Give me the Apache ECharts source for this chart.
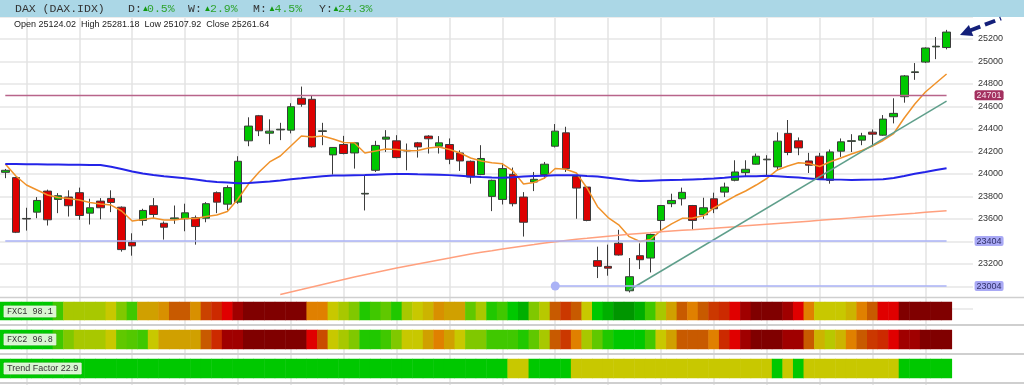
<!DOCTYPE html>
<html><head><meta charset="utf-8">
<script src="https://cdn.jsdelivr.net/npm/echarts@6/dist/echarts.min.js"></script>
<style>html,body{margin:0;padding:0;background:#fff}#c{width:1024px;height:385px}</style>
</head><body><div id="c"></div>
<script>
// ---- data ----
const opens = [24015,23968,23600,23661,23848,23774,23795,23834,23652,23759,
23783,23705,23393,23587,23718,23562,23600,23602,23611,23607,
23834,23732,23750,24295,24518,24363,24392,24390,24673,24664,
24378,24170,24262,24187,23822,24033,24310,24295,24210,24277,
24337,24247,24262,24187,24113,23995,23801,23774,23997,23795,
23929,23995,24247,24366,23979,23884,23230,23179,23384,22962,
23274,23253,23587,23736,23780,23720,23638,23780,23839,23944,
24012,24087,24126,24063,24361,24295,24116,24158,23944,24203,
24290,24301,24372,24345,24509,24687,24902,24995,25130,25124.02];
const closes = [24033,23482,23605,23765,23593,23807,23718,23631,23700,23700,
23747,23328,23361,23676,23640,23527,23610,23655,23533,23736,
23750,23879,24113,24426,24384,24381,24398,24598,24620,24241,
24384,24236,24182,24277,23828,24254,24328,24146,24205,24241,
24313,24277,24131,24116,23973,24138,23944,24048,23736,23571,
23953,24087,24381,24048,23875,23587,23179,23163,23280,23087,
23238,23462,23720,23765,23837,23587,23700,23691,23884,24018,
24042,24158,24132,24292,24191,24232,24078,23959,24196,24286,
24296,24339,24354,24488,24539,24872,24908,25120,25136,25261.64];
const lows = [23963,23475,23497,23607,23542,23652,23622,23593,23551,23598,
23661,23310,23274,23542,23602,23417,23557,23491,23372,23571,
23652,23676,23735,24247,24337,24265,24301,24361,24598,24235,
24256,23995,24175,24048,23676,24018,24196,24140,24033,24146,
24182,24182,24087,24027,23914,23990,23670,23729,23712,23444,
23848,23959,24236,24018,23602,23580,23075,23096,23275,22947,
23155,23125,23482,23705,23720,23506,23602,23652,23795,23935,
23973,24085,23988,24033,24167,24167,24009,23955,23914,24152,
24196,24256,24241,24340,24450,24634,24837,24986,25021,25107.92];
const highs = [24045,23975,23700,23795,23861,23830,23855,23879,23780,23786,
23855,23712,23473,23691,23786,23578,23720,23736,23631,23750,
23845,23899,24158,24504,24525,24486,24455,24629,24777,24694,
24455,24240,24339,24285,23982,24295,24390,24345,24271,24285,
24345,24337,24316,24210,24120,24256,23950,24098,24057,23839,
24018,24107,24444,24420,23985,23890,23354,23372,23504,23253,
23384,23470,23725,23825,23879,23725,23789,23834,23923,24122,
24122,24182,24167,24370,24480,24325,24188,24188,24218,24316,
24354,24366,24396,24524,24673,24880,24986,25125,25218,25281.18];

const maShort = [24089,23982,23902,23858,23813,23791,23782,23769,23747,23733,
23724,23671,23582,23596,23609,23591,23591,23604,23604,23622,
23636,23667,23778,23911,24018,24107,24160,24249,24338,24329,
24338,24311,24280,24278,24187,24204,24222,24218,24207,24209,
24231,24240,24218,24187,24142,24116,24100,24091,24027,23911,
23924,23964,24049,24042,24009,23876,23709,23613,23548,23443,
23400,23418,23498,23556,23606,23609,23628,23698,23751,23804,
23849,23902,23960,24036,24071,24100,24093,24067,24109,24142,
24178,24209,24249,24298,24360,24498,24622,24729,24809,24889];
const maMid = [24089,24089,24087,24086,24085,24084,24083,24082,24081,24080,
24065,24044,24022,24004,23991,23980,23972,23963,23951,23938,
23929,23924,23918,23920,23927,23934,23943,23953,23962,23972,
23980,23986,23987,23989,23991,23994,23997,24000,23999,23997,
23996,23993,23990,23984,23978,23973,23969,23967,23971,23977,
23982,23985,23988,23990,23989,23983,23978,23967,23956,23945,
23938,23941,23944,23947,23949,23952,23955,23959,23966,23975,
23979,23981,23984,23980,23974,23968,23961,23954,23951,23950,
23947,23949,23950,23953,23964,23982,24002,24018,24036,24051];
const maLong = [null,null,null,null,null,null,null,null,null,null,
null,null,null,null,null,null,null,null,null,null,
null,null,null,null,null,null,22928,22951,22973,22996,
23018,23040,23062,23084,23105,23124,23144,23164,23182,23200,
23218,23236,23253,23271,23289,23304,23318,23333,23347,23360,
23373,23387,23397,23409,23420,23428,23437,23446,23455,23464,
23471,23478,23486,23493,23500,23505,23511,23517,23524,23531,
23539,23546,23553,23560,23567,23574,23581,23588,23596,23603,
23610,23617,23624,23631,23638,23645,23652,23660,23667,23674];
const trendLine = [[59, 22969], [89, 24647]];
const resistance = 24701;
const support1 = 23404;
const support2 = 23004;
const support2Start = 52;
const yTicks = [23200,23600,23800,24000,24200,24400,24600,24800,25000,25200];

const fxc1 = [1,1,1,1,1,2,4,4,4,4,
5,3,2,6,6,6.5,8,8,6.5,8.5,
9,10,11,12,12,12,12,12,12,7,
7,5,4,3,1.5,2,2.5,1.5,4,5,
5.5,6.5,6,6,2.5,4,1.5,2,1,0.5,
3,4.5,8,8.7,8,5,1,0.5,0,0,
0.5,2,4,6,8,7,8,8.7,9,10,
11,12,12,12,11,10,7,5,5,5,
5.5,7,8,10,10,12,12,12,12,12];
const fxc2 = [1,1,1,1,1,2,3,4,4,4,
5,2.5,2.3,2,5,6,6,6,6,8,
9,11,11,12,12,12,12,12,12,10,
8.3,5,4,3,1.5,1.5,2,3,5,5,
6,7,6,5,3,3,2,2,2,1.5,
2.5,4,8,8.7,7,4,2.5,1.5,1,1,
1,2,5,6,8,8,8,7,9,10,
11,12,12,12,11,11,8,5.5,4.5,5.5,
7,8,8.7,9,10,11,11,12,12,12];
const trendFactor = [1,1,1,1,1,1,1,1,1,1,
1,1,1,1,1,1,1,1,1,1,
1,1,1,1,1,1,1,1,1,1,
1,1,1,1,1,1,1,1,1,1,
1,1,1,1,1,1,1,1,5,5,
1,1,1,1,5,5,5,5,5,5,
5,5,5,5,5,5,5,5,5,5,
5,5,5,1,5,1,5,5,5,5,
5,5,5,5,5,1,1,1,1,1];
const heatPalette = ['#009600','#00c800','#40c800','#80c800','#a8c800','#c8c800',
  '#d0a000','#e08000','#c85a00','#cc2a00','#e00000','#a00000','#800000'];

// ---- chart ----
const N = 92;
const cats = Array.from({length: N}, (_, i) => String(i));
const candles = opens.map((o, i) => [o, closes[i], lows[i], highs[i]]);
const heat = arr => arr.map((v, i) => [i, 0, v]);

const chart = echarts.init(document.getElementById('c'));
const mono = '"Liberation Mono", "DejaVu Sans Mono", monospace';
const sans = '"Liberation Sans", Arial, sans-serif';

function boxLabel(text, bg, fg) {
  return {show: true, position: 'end', distance: 28, formatter: String(text),
    color: fg, backgroundColor: bg, padding: [1, 2, 0, 2], borderRadius: 2,
    fontSize: 9, fontFamily: sans};
}

const stripGrid = (top, h) => ({left: 0, right: 51, top: top, height: h});
const hiddenCat = idx => ({type: 'category', data: cats, gridIndex: idx, show: false, boundaryGap: true});
const hiddenY = idx => ({type: 'category', data: ['v'], gridIndex: idx, show: false});

chart.setOption({
  animation: false,
  backgroundColor: '#fff',
  grid: [
    {left: 0, right: 51, top: 16.5, height: 292.5},
    stripGrid(302, 18),
    stripGrid(330, 19),
    stripGrid(359, 19),
    {left: 0, right: 51, top: 18, bottom: 0}
  ],
  xAxis: [
    {type: 'category', data: cats, gridIndex: 0, boundaryGap: true,
      axisLine: {show: false}, axisTick: {show: false}, axisLabel: {show: false}, splitLine: {show: false}},
    hiddenCat(1), hiddenCat(2), hiddenCat(3),
    {type: 'category', data: cats, gridIndex: 4, boundaryGap: true,
      axisLine: {show: false}, axisTick: {show: false}, axisLabel: {show: false},
      splitLine: {show: true, alignWithLabel: true, interval: (i) => i % 5 === 2,
        lineStyle: {color: '#e3e3e3', width: 1.5}}}
  ],
  yAxis: [
    {type: 'value', gridIndex: 0, position: 'right', min: 22800, max: 25400, interval: 200,
      axisLine: {show: false}, axisTick: {show: false},
      axisLabel: {margin: 5, color: '#333', fontSize: 9, fontFamily: sans,
        formatter: v => yTicks.indexOf(v) >= 0 ? String(v) : ''},
      splitLine: {show: true, lineStyle: {color: '#e6e6e6', width: 1.5}}},
    hiddenY(1), hiddenY(2), hiddenY(3),
    {type: 'value', gridIndex: 4, min: 0, max: 1, show: false, splitLine: {show: false}}
  ],
  visualMap: [{type: 'continuous', show: false, min: 0, max: 12, dimension: 2,
    seriesIndex: [5, 6, 7], inRange: {color: heatPalette}}],
  series: [
    {type: 'candlestick', xAxisIndex: 0, yAxisIndex: 0, data: candles, barWidth: 8,
      itemStyle: {color: '#00c800', color0: '#dd0000', borderColor: '#3c3c3c', borderColor0: '#3c3c3c', borderWidth: 1},
      markLine: {silent: true, symbol: 'none', animation: false,
        data: [
          [{coord: [0, resistance], lineStyle: {color: '#b8648a', width: 1.3, type: 'solid'},
            label: boxLabel(resistance, '#a3305f', '#f6e2ec')}, {coord: [89, resistance]}],
          [{coord: [0, support1], lineStyle: {color: '#aab2f6', width: 1.5, type: 'solid'},
            label: boxLabel(support1, '#a9a9f5', '#30306a')}, {coord: [89, support1]}],
          [{coord: [support2Start, support2], symbol: 'circle', symbolSize: 9,
            lineStyle: {color: '#aab2f6', width: 1.5, type: 'solid'},
            label: boxLabel(support2, '#a9a9f5', '#30306a')}, {coord: [89, support2], symbol: 'none'}]
        ]}},
    {type: 'line', data: maShort, symbol: 'none', lineStyle: {color: '#f0922a', width: 1.5}, z: 3},
    {type: 'line', data: maMid, symbol: 'none', lineStyle: {color: '#2424e8', width: 2}, z: 3},
    {type: 'line', data: maLong, symbol: 'none', lineStyle: {color: '#ffa07e', width: 1.5}, z: 3},
    {type: 'line', data: trendLine, symbol: 'none', lineStyle: {color: '#5f9f8b', width: 1.5}, z: 3},
    {type: 'heatmap', xAxisIndex: 1, yAxisIndex: 1, data: heat(fxc1)},
    {type: 'heatmap', xAxisIndex: 2, yAxisIndex: 2, data: heat(fxc2)},
    {type: 'heatmap', xAxisIndex: 3, yAxisIndex: 3, data: heat(trendFactor)}
  ],
  graphic: [
    {type: 'rect', shape: {x: 0, y: 0, width: 1024, height: 17}, style: {fill: '#abd7e6'}, z: 10},
    {type: 'text', x: 15, y: 8.5, z: 11, style: {text: 'DAX (DAX.IDX)', font: '11.5px ' + mono, fill: '#333', verticalAlign: 'middle'}},
    {type: 'text', x: 128, y: 8.5, z: 11, style: {text: 'D:', font: '11.5px ' + mono, fill: '#333', verticalAlign: 'middle'}},
    {type: 'text', x: 141.5, y: 9, z: 11, style: {text: '▲', font: '8px ' + sans, fill: '#119911', verticalAlign: 'middle'}},
    {type: 'text', x: 147, y: 8.5, z: 11, style: {text: '0.5%', font: '11.5px ' + mono, fill: '#2ea32e', verticalAlign: 'middle'}},
    {type: 'text', x: 188, y: 8.5, z: 11, style: {text: 'W:', font: '11.5px ' + mono, fill: '#333', verticalAlign: 'middle'}},
    {type: 'text', x: 203.5, y: 9, z: 11, style: {text: '▲', font: '8px ' + sans, fill: '#119911', verticalAlign: 'middle'}},
    {type: 'text', x: 210, y: 8.5, z: 11, style: {text: '2.9%', font: '11.5px ' + mono, fill: '#2ea32e', verticalAlign: 'middle'}},
    {type: 'text', x: 253, y: 8.5, z: 11, style: {text: 'M:', font: '11.5px ' + mono, fill: '#333', verticalAlign: 'middle'}},
    {type: 'text', x: 268, y: 9, z: 11, style: {text: '▲', font: '8px ' + sans, fill: '#119911', verticalAlign: 'middle'}},
    {type: 'text', x: 274.5, y: 8.5, z: 11, style: {text: '4.5%', font: '11.5px ' + mono, fill: '#2ea32e', verticalAlign: 'middle'}},
    {type: 'text', x: 319, y: 8.5, z: 11, style: {text: 'Y:', font: '11.5px ' + mono, fill: '#333', verticalAlign: 'middle'}},
    {type: 'text', x: 332, y: 9, z: 11, style: {text: '▲', font: '8px ' + sans, fill: '#119911', verticalAlign: 'middle'}},
    {type: 'text', x: 338, y: 8.5, z: 11, style: {text: '24.3%', font: '11.5px ' + mono, fill: '#2ea32e', verticalAlign: 'middle'}},
    {type: 'text', x: 14, y: 24.5, z: 11, style: {text: 'Open 25124.02  High 25281.18  Low 25107.92  Close 25261.64', font: '9px ' + sans, fill: '#222', verticalAlign: 'middle'}},
    // separators
    {type: 'line', shape: {x1: 0, y1: 297.5, x2: 1024, y2: 297.5}, style: {stroke: '#cfcfcf', lineWidth: 1.5}, z: 1},
    {type: 'line', shape: {x1: 0, y1: 325, x2: 1024, y2: 325}, style: {stroke: '#cfcfcf', lineWidth: 2}, z: 1},
    {type: 'line', shape: {x1: 0, y1: 354, x2: 1024, y2: 354}, style: {stroke: '#cfcfcf', lineWidth: 2}, z: 1},
    {type: 'line', shape: {x1: 0, y1: 383, x2: 1024, y2: 383}, style: {stroke: '#cfcfcf', lineWidth: 2}, z: 1},
    // strip labels
    {type: 'text', x: 4, y: 311.5, z: 11, style: {text: 'FXC1 98.1', font: '8.5px ' + mono, fill: '#333', verticalAlign: 'middle',
      backgroundColor: 'rgba(236,248,228,0.92)', borderColor: '#bcd8b4', borderWidth: 0.5, padding: [1, 3, 1, 3]}},
    {type: 'text', x: 4, y: 339.5, z: 11, style: {text: 'FXC2 96.8', font: '8.5px ' + mono, fill: '#333', verticalAlign: 'middle',
      backgroundColor: 'rgba(236,248,228,0.92)', borderColor: '#bcd8b4', borderWidth: 0.5, padding: [1, 3, 1, 3]}},
    {type: 'text', x: 4, y: 368.5, z: 11, style: {text: 'Trend Factor 22.9', font: '9px ' + sans, fill: '#333', verticalAlign: 'middle',
      backgroundColor: 'rgba(236,248,228,0.92)', borderColor: '#bcd8b4', borderWidth: 0.5, padding: [1, 3, 1, 3]}},
    // pointer arrow
    {type: 'polygon', shape: {points: [[960, 35], [968.9, 24.9], [973.3, 36.1]]}, style: {fill: '#14207a'}, z: 12},
    {type: 'line', shape: {x1: 970, y1: 30.5, x2: 1001, y2: 18.5}, style: {stroke: '#14207a', lineWidth: 4, lineDash: [11, 5]}, z: 12}
  ]
});
</script></body></html>
